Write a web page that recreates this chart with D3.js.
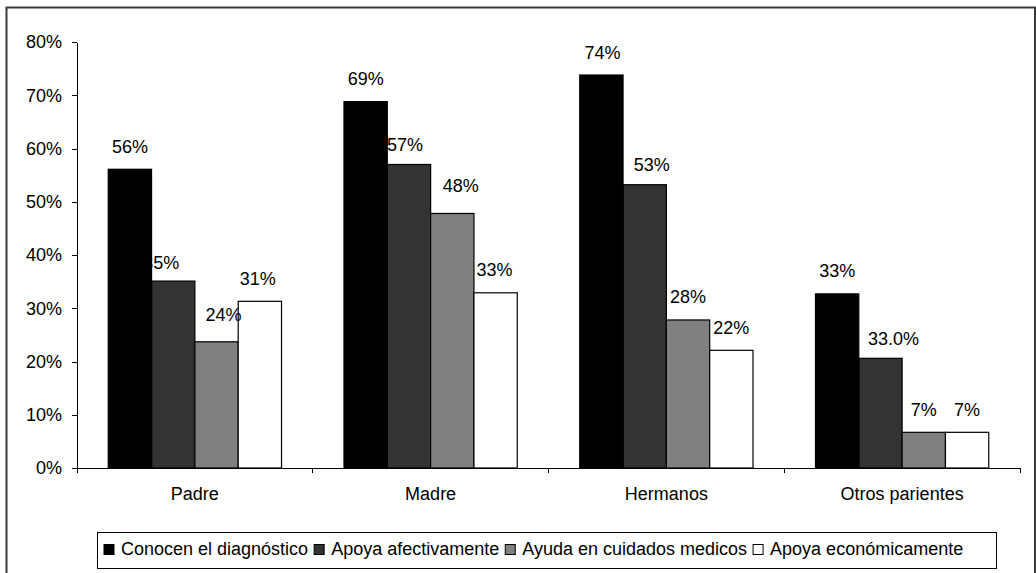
<!DOCTYPE html>
<html>
<head>
<meta charset="utf-8">
<script src="https://cdn.jsdelivr.net/npm/d3@7"></script>
<style>
  html, body { margin: 0; padding: 0; background: #fff; }
  svg { display: block; }
  text { font-family: "Liberation Sans", Arial, sans-serif; fill: #000; }
</style>
</head>
<body>
<svg id="chart" width="1036" height="573"></svg>
<script>
// Categories (groups on the x axis)
const categories = ["Padre", "Madre", "Hermanos", "Otros parientes"];

// Series names, in legend order
const seriesNames = [
  "Conocen el diagnóstico",
  "Apoya afectivamente",
  "Ayuda en cuidados medicos",
  "Apoya económicamente"
];

// Values per series (one entry per category)
const conocen     = [0.561, 0.688, 0.738, 0.327];
const afectivo    = [0.351, 0.570, 0.532, 0.206];
const cuidados    = [0.237, 0.478, 0.278, 0.067];
const economico   = [0.313, 0.329, 0.221, 0.067];

// Data-label texts as printed on the chart
const labelsConocen   = ["56%", "69%", "74%", "33%"];
const labelsAfectivo  = ["35%", "57%", "53%", "33.0%"];
const labelsCuidados  = ["24%", "48%", "28%", "7%"];
const labelsEconomico = ["31%", "33%", "22%", "7%"];

// Y axis tick values
const yTicks = [0, 0.1, 0.2, 0.3, 0.4, 0.5, 0.6, 0.7, 0.8];

// ---- styling / layout (not data) ----
const fills = ["#000000", "#333333", "#808080", "#ffffff"];
// per-label nudges [dx, dy] so overlapping labels sit apart
const labelNudge = [
  [[0, 0], [0, 0], [1, 0], [0, 0]],
  [[-12, 4], [-4, 3.5], [7, 3], [13, 3]],
  [[7, -4], [8.5, -5], [0, 0], [0, 0]],
  [[-2, 0], [-1, 0], [0, 0], [0, 0]]
];

const values = [conocen, afectivo, cuidados, economico];
const labels = [labelsConocen, labelsAfectivo, labelsCuidados, labelsEconomico];

const svg = d3.select("#chart");
const FS = 18;

// outer chart border
svg.append("rect")
  .attr("x", 6.5).attr("y", 7.5)
  .attr("width", 1028.5).attr("height", 600)
  .attr("fill", "#fff")
  .attr("stroke", "#3a3a3a").attr("stroke-width", 2);

const plot = { left: 77, right: 1020, top: 42, bottom: 468 };

const y = d3.scaleLinear().domain([0, 0.8]).range([plot.bottom, plot.top]);
const x0 = d3.scaleBand().domain(categories).range([plot.left, plot.right]);
const groupW = x0.bandwidth() * 0.735;
const x1 = d3.scaleBand().domain(d3.range(seriesNames.length)).range([0, groupW]);
const groupOffset = (x0.bandwidth() - groupW) / 2;

// Y axis
const yAxis = svg.append("g")
  .attr("transform", `translate(${plot.left},0)`)
  .call(d3.axisLeft(y).tickValues(yTicks).tickFormat(d3.format(".0%"))
    .tickSize(5).tickSizeOuter(0).tickPadding(10));
yAxis.selectAll("text").style("font-size", FS + "px").attr("font-family", null);
yAxis.selectAll("line, path").attr("stroke", "#000").attr("shape-rendering", "crispEdges");

// X axis baseline
svg.append("line")
  .attr("x1", plot.left).attr("x2", plot.right)
  .attr("y1", y(0)).attr("y2", y(0))
  .attr("stroke", "#000").attr("shape-rendering", "crispEdges");

// category separators (tick marks between groups)
const boundaries = categories.map(c => x0(c)).concat([x0(categories[categories.length - 1]) + x0.bandwidth()]);
svg.selectAll("line.cat-tick").data(boundaries).enter().append("line")
  .attr("class", "cat-tick")
  .attr("x1", d => d).attr("x2", d => d)
  .attr("y1", y(0)).attr("y2", y(0) + 5)
  .attr("stroke", "#000").attr("shape-rendering", "crispEdges");

// category labels
svg.selectAll("text.cat").data(categories).enter().append("text")
  .attr("class", "cat")
  .attr("x", d => x0(d) + x0.bandwidth() / 2)
  .attr("y", 499.5)
  .attr("text-anchor", "middle")
  .style("font-size", FS + "px")
  .text(d => d);

function drawBars(si) {
  svg.append("g").selectAll("rect").data(values[si]).enter().append("rect")
    .attr("x", (d, ci) => x0(categories[ci]) + groupOffset + x1(si))
    .attr("y", d => y(d))
    .attr("width", x1.bandwidth())
    .attr("height", d => y(0) - y(d))
    .attr("fill", fills[si])
    .attr("stroke", "#000").attr("stroke-width", 1.2);
}

// bars of the 2nd..4th series
for (let si = 1; si < seriesNames.length; si++) drawBars(si);

// data labels
for (let si = 0; si < seriesNames.length; si++) {
  svg.append("g").selectAll("text").data(values[si]).enter().append("text")
    .attr("x", (d, ci) => x0(categories[ci]) + groupOffset + x1(si) + x1.bandwidth() / 2 + labelNudge[si][ci][0])
    .attr("y", (d, ci) => y(d) - 16.5 + labelNudge[si][ci][1])
    .attr("text-anchor", "middle")
    .style("font-size", FS + "px")
    .text((d, ci) => labels[si][ci]);
}

// first series drawn last so it sits on top
drawBars(0);

// legend
const legend = svg.append("g");
const legendBox = legend.append("rect")
  .attr("y", 532.5).attr("height", 36)
  .attr("fill", "#fff").attr("stroke", "#000").attr("stroke-width", 1);
let lx = 104;
seriesNames.forEach((name, si) => {
  legend.append("rect")
    .attr("x", lx).attr("y", 544.5).attr("width", 10).attr("height", 10)
    .attr("fill", fills[si]).attr("stroke", "#000").attr("stroke-width", 1);
  const t = legend.append("text")
    .attr("x", lx + 17).attr("y", 555)
    .style("font-size", FS + "px")
    .text(name);
  lx = lx + 17 + t.node().getComputedTextLength() + 6;
});
legendBox.attr("x", 97.5).attr("width", Math.max(lx - 97.5, 899));
</script>
</body>
</html>
